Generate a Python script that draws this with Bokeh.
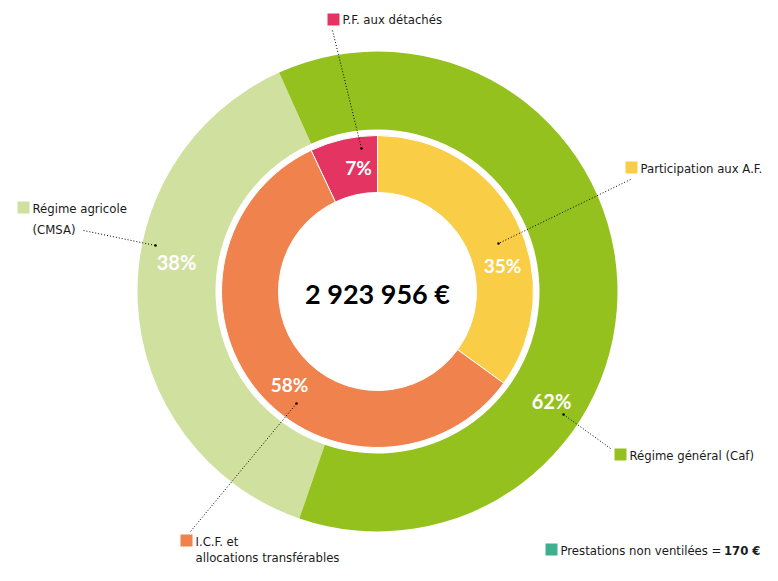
import numpy as np
from bokeh.plotting import figure
from bokeh.models import Range1d
from bokeh.core.properties import value
from bokeh.embed import file_html
from bokeh.resources import INLINE

# ---- data ----
outer_labels = ["Régime agricole", "Régime général (Caf)"]
outer_values = [38, 62]
outer_colors = ["#D0E09E", "#95C11F"]

inner_labels = ["P.F. aux détachés", "Participation aux A.F.", "I.C.F. et"]
inner_values = [7, 35, 58]
inner_colors = ["#E33462", "#F9CD45", "#F0824D"]

total_label = "2 923 956 €"
non_ventile_label = "Prestations non ventilées ="
non_ventile_value = "170 €"
non_ventile_color = "#3FB08E"

# ---- figure ----
W, H = 762, 565
p = figure(width=W, height=H, x_range=Range1d(0, W), y_range=Range1d(-H, 0),
           output_backend="svg", toolbar_location=None, min_border=0)
p.axis.visible = False
p.grid.visible = False
p.outline_line_color = None
p.background_fill_color = "white"

cx, cy = 377, -291

def angles(values, offset_deg):
    fr = np.array(values, dtype=float) / sum(values)
    ends = offset_deg + 360 * np.cumsum(fr)
    starts = ends - 360 * fr
    return np.radians(90 - starts), np.radians(90 - ends)

# outer ring
s, e = angles(outer_values, 199)
p.annular_wedge(x=cx, y=cy, inner_radius=162, outer_radius=240, start_angle=s, end_angle=e,
                direction="clock", fill_color=outer_colors, line_color=None)

# inner ring
s, e = angles(inner_values, -inner_values[0] * 3.6)
p.annular_wedge(x=cx, y=cy, inner_radius=99, outer_radius=156, start_angle=s, end_angle=e,
                direction="clock", fill_color=inner_colors, line_color="white", line_width=1)

PF = value("Lato")
LF = value("DejaVu Sans Condensed, Roboto, sans-serif")

# percentage labels
inner_pos = [(358, 167), (502, 265), (289, 384)]
outer_pos = [(176, 261), (551, 400)]
p.text(x=[q[0] for q in inner_pos], y=[-q[1] for q in inner_pos],
       text=[f"{v}%" for v in inner_values], text_font=PF, text_font_style="bold",
       text_font_size="19px", text_color="white", text_align="center", text_baseline="middle")
p.text(x=[q[0] for q in outer_pos], y=[-q[1] for q in outer_pos],
       text=[f"{v}%" for v in outer_values], text_font=PF, text_font_style="bold",
       text_font_size="20px", text_color="white", text_align="center", text_baseline="middle")

# centre total
p.text(x=[cx], y=[-293], text=[total_label], text_font=PF, text_font_style="bold",
       text_font_size="27px", text_color="black", text_align="center", text_baseline="middle")

# leader lines (dotted)
leaders = [((332, 30), (361, 148)),
           ((83, 230), (155, 245)),
           ((630, 179), (498, 243)),
           ((563, 414), (610, 448)),
           ((296, 403), (190, 531))]
p.multi_line(xs=[[a[0], b[0]] for a, b in leaders], ys=[[-a[1], -b[1]] for a, b in leaders],
             line_color="black", line_width=1, line_dash="1 2")
inner_ends = [(361, 148), (155, 245), (498, 243), (563, 414), (296, 403)]
p.scatter(x=[q[0] for q in inner_ends], y=[-q[1] for q in inner_ends], size=2.5,
          fill_color="black", line_color=None)

# legend squares
sq = [((333, 19), inner_colors[0]), ((23, 207), outer_colors[0]), ((631, 167), inner_colors[1]),
      ((620, 454), outer_colors[1]), ((551, 549), non_ventile_color), ((186, 540), inner_colors[2])]
p.rect(x=[q[0][0] for q in sq], y=[-q[0][1] for q in sq], width=12, height=12,
       fill_color=[q[1] for q in sq], line_color=None)

# legend texts
lt = [((342, 19), inner_labels[0]),
      ((32, 208), outer_labels[0]),
      ((32, 229), "(CMSA)"),
      ((640, 168), inner_labels[1]),
      ((629, 455), outer_labels[1]),
      ((560, 550), non_ventile_label),
      ((195, 541), inner_labels[2]),
      ((195, 557), "allocations transférables")]
p.text(x=[q[0][0] for q in lt], y=[-q[0][1] for q in lt], text=[q[1] for q in lt],
       text_font=LF, text_font_size="13px", text_color="#1a1a1a",
       text_align="left", text_baseline="middle")
p.text(x=[760], y=[-550], text=[non_ventile_value], text_font=LF, text_font_style="bold",
       text_font_size="13px", text_color="#1a1a1a", text_align="right", text_baseline="middle")

open("out.html", "w").write(file_html(p, INLINE))
